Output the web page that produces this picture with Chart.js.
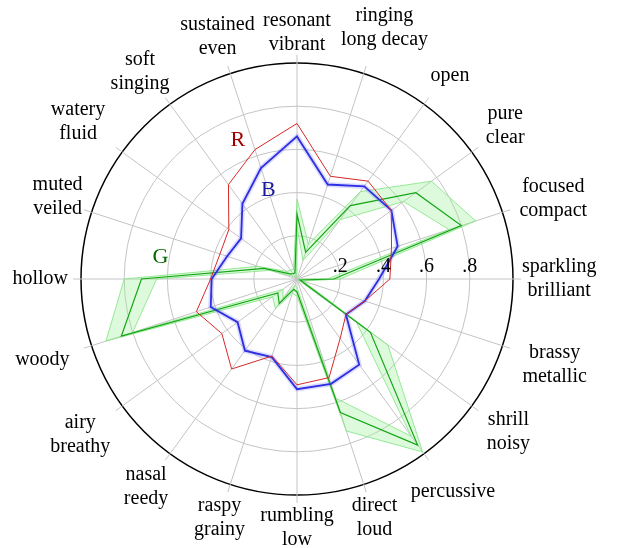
<!DOCTYPE html>
<html lang="en">
<head>
<meta charset="UTF-8">
<title>Timbre radar</title>
<script src="https://cdn.jsdelivr.net/npm/chart.js"></script>
<style>
  html, body { margin: 0; padding: 0; background: #fff; }
  #wrap { position: relative; width: 617px; height: 548px; }
</style>
</head>
<body>
<div id="wrap"><canvas id="myChart"></canvas></div>
<script>
// categories, clockwise from the top (Chart.js order)
const categories = [
  ['resonant', 'vibrant'], ['ringing', 'long decay'], 'open', ['pure', 'clear'], ['focused', 'compact'],
  ['sparkling', 'brilliant'], ['brassy', 'metallic'], ['shrill', 'noisy'], 'percussive', ['direct', 'loud'],
  ['rumbling', 'low'], ['raspy', 'grainy'], ['nasal', 'reedy'], ['airy', 'breathy'], 'woody',
  'hollow', ['muted', 'veiled'], ['watery', 'fluid'], ['soft', 'singing'], ['sustained', 'even']
];

const valuesR = [0.72, 0.50, 0.56, 0.54, 0.46, 0.43, 0.33, 0.28, 0.34, 0.48,
                 0.49, 0.375, 0.515, 0.43, 0.49, 0.40, 0.375, 0.39, 0.54, 0.63];
const valuesB = [0.66, 0.46, 0.53, 0.54, 0.49, 0.38, 0.33, 0.28, 0.49, 0.51,
                 0.51, 0.38, 0.41, 0.34, 0.42, 0.395, 0.34, 0.32, 0.43, 0.54];
const valuesG = [0.30, 0.13, 0.42, 0.68, 0.80, 0.17, 0.015, 0.42, 0.95, 0.65,
                 0.06, 0.05, 0.14, 0.11, 0.855, 0.72, 0.16, 0.04, 0.03, 0.03];
const upperG  = [0.37, 0.17, 0.50, 0.77, 0.87, 0.20, 0.03, 0.52, 0.99, 0.74,
                 0.08, 0.07, 0.17, 0.14, 0.93, 0.80, 0.19, 0.06, 0.05, 0.05];
const lowerG  = [0.24, 0.09, 0.34, 0.61, 0.74, 0.14, 0.00, 0.34, 0.90, 0.58,
                 0.04, 0.03, 0.11, 0.08, 0.80, 0.65, 0.13, 0.02, 0.01, 0.01];

const tickValues = [0.2, 0.4, 0.6, 0.8];
const tickLabels = ['.2', '.4', '.6', '.8'];

// series names written inside the plot (value, angle in degrees ccw from the right)
const seriesNames = [
  { text: 'R', value: 0.70, angle: 113, color: '#a00000' },
  { text: 'B', value: 0.43, angle: 108, color: '#1a1a9a' },
  { text: 'G', value: 0.64, angle: 171, color: '#006a00' }
];

const serif = '"Liberation Serif", "DejaVu Serif", serif';
const labelSize = 20;
const lineH = 24;
const labelGap = 9;
// small hand corrections of label boxes (px), by category index
const labelNudge = {
  0: [0, 3], 1: [10, -13], 2: [2, 4], 3: [5, -6], 4: [8, 0], 6: [11, 6], 7: [6, 4], 8: [5, 5],
  13: [-3, 0], 14: [-13, 2], 15: [-4, 0], 16: [0, -4], 17: [-8, -4], 18: [-6, 0], 19: [-2, -4]
};

const overlay = {
  id: 'overlay',
  beforeDatasetsDraw(chart) {
    // short ticks of the spokes outside the outer circle
    const r = chart.scales.r, ctx = chart.ctx;
    ctx.save();
    ctx.strokeStyle = '#c4c4c4';
    ctx.lineWidth = 1;
    for (let i = 0; i < categories.length; i++) {
      const a = r.getPointPosition(i, r.drawingArea);
      const b = r.getPointPosition(i, r.drawingArea + 8);
      ctx.beginPath();
      ctx.moveTo(a.x, a.y);
      ctx.lineTo(b.x, b.y);
      ctx.stroke();
    }
    ctx.restore();
  },
  afterDraw(chart) {
    const r = chart.scales.r, ctx = chart.ctx;
    ctx.save();
    ctx.fillStyle = '#000';
    ctx.textAlign = 'center';

    // category labels: lines centred, box (two lines tall) pushed out along the spoke
    ctx.font = labelSize + 'px ' + serif;
    ctx.textBaseline = 'middle';
    categories.forEach((lab, i) => {
      const lines = [].concat(lab);
      const w = Math.max(...lines.map(l => ctx.measureText(l).width));
      const h = lines.length * lineH;
      const p = r.getPointPosition(i, r.drawingArea);
      const dx = (p.x - r.xCenter) / r.drawingArea;
      const dy = (p.y - r.yCenter) / r.drawingArea;
      const a = w / 2 + labelGap, b = lineH + labelGap;
      const t = Math.min(Math.abs(dx) > 1e-6 ? a / Math.abs(dx) : Infinity,
                         Math.abs(dy) > 1e-6 ? b / Math.abs(dy) : Infinity);
      const n = labelNudge[i] || [0, 0];
      const cx = p.x + t * dx + n[0], cy = p.y + t * dy + n[1];
      lines.forEach((l, k) => ctx.fillText(l, cx, cy - h / 2 + lineH * (k + 0.5)));
    });

    // radial tick labels along the right-hand spoke
    ctx.textBaseline = 'alphabetic';
    tickValues.forEach((v, i) => {
      ctx.fillText(tickLabels[i], r.xCenter + r.getDistanceFromCenterForValue(v), r.yCenter - 7);
    });

    ctx.font = '22px ' + serif;
    ctx.textBaseline = 'middle';
    seriesNames.forEach(s => {
      const d = r.getDistanceFromCenterForValue(s.value);
      const t = s.angle * Math.PI / 180;
      ctx.fillStyle = s.color;
      ctx.fillText(s.text, r.xCenter + d * Math.cos(t), r.yCenter - d * Math.sin(t));
    });
    ctx.restore();
  }
};

const data = {
  labels: categories,
  datasets: [
    { label: 'R', data: valuesR, borderColor: 'rgb(214,40,40)', borderWidth: 1, fill: false },
    { label: 'B', data: valuesB, borderColor: 'rgb(45,45,225)', borderWidth: 1.8, fill: false },
    { label: 'B band', data: valuesB, borderColor: 'rgba(110,110,255,0.25)', borderWidth: 5, fill: false },
    { label: 'G', data: valuesG, borderColor: 'rgb(20,165,20)', borderWidth: 1.2, fill: false },
    { label: 'G upper', data: upperG, borderColor: 'rgba(140,230,140,0.9)', borderWidth: 1,
      backgroundColor: 'rgba(150,240,150,0.32)', fill: '+1' },
    { label: 'G lower', data: lowerG, borderColor: 'rgba(140,230,140,0.9)', borderWidth: 1, fill: false }
  ]
};

const config = {
  type: 'radar',
  data: data,
  options: {
    responsive: true,
    maintainAspectRatio: false,
    animation: false,
    // plot circle: centre (297, 279), radius 216
    layout: { padding: { top: 63, bottom: 53, left: 81, right: 104 } },
    elements: { point: { radius: 0 }, line: { tension: 0 } },
    plugins: { legend: { display: false }, tooltip: { enabled: false } },
    scales: {
      r: {
        min: 0,
        max: 1,
        startAngle: 0,
        ticks: { stepSize: 0.2, display: false },
        grid: {
          circular: true,
          color: c => (c.tick && c.tick.value >= 1 ? '#000' : '#c4c4c4'),
          lineWidth: c => (c.tick && c.tick.value >= 1 ? 1.5 : 1)
        },
        angleLines: { color: '#c4c4c4', lineWidth: 1 },
        pointLabels: { display: false }
      }
    }
  },
  plugins: [overlay]
};

const myChart = new Chart(document.getElementById('myChart'), config);
</script>
</body>
</html>
